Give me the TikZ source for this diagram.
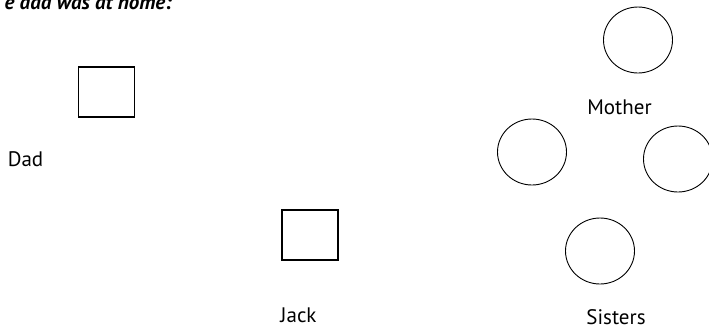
\documentclass[tikz,border=0pt]{standalone}
\usepackage{fontspec}
\setmainfont{PT Sans}
\usetikzlibrary{shapes.geometric}
\begin{document}
\begin{tikzpicture}[x=1pt,y=-1pt,
  person/.style={draw=black,line width=1.1pt,minimum width=56pt,minimum height=50pt,inner sep=0pt},
  female/.style={draw=black,line width=0.9pt,ellipse,minimum width=69pt,minimum height=66pt,inner sep=0pt},
  lbl/.style={font=\fontsize{21}{24}\selectfont,inner sep=0pt}]
\useasboundingbox (0,0) rectangle (709,330);
\node[font=\fontsize{21}{24}\selectfont\bfseries\itshape,inner sep=0pt,anchor=base east] (title) at (172,9) {e dad was at home:};
\node[person] (dad) at (106.5,92) {};
\node[lbl,anchor=base] (dadl) at (25.5,166) {Dad};
\node[person] (jack) at (310,235) {};
\node[lbl,anchor=base] (jackl) at (298.5,322) {Jack};
\node[female] (mother) at (638,40) {};
\node[lbl,anchor=base] (motherl) at (619.5,114) {Mother};
\node[female] (sisA) at (532,152) {};
\node[female] (sisB) at (678,159) {};
\node[female] (sisC) at (600,251) {};
\node[lbl,anchor=base] (sistersl) at (616,324) {Sisters};
\end{tikzpicture}
\end{document}
